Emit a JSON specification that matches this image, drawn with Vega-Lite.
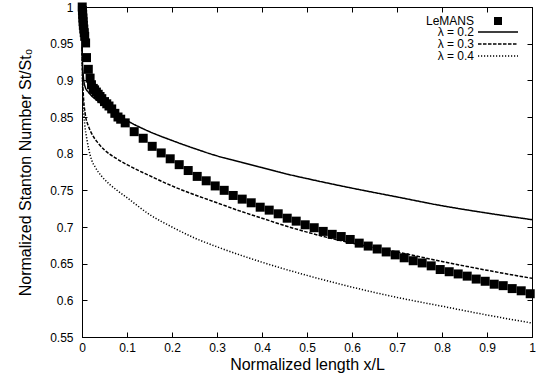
{
  "$schema": "https://vega.github.io/schema/vega-lite/v6.json",
  "width": 450,
  "height": 330,
  "autosize": "none",
  "padding": {"left": 82, "top": 7, "right": 6, "bottom": 44},
  "background": "white",
  "config": {
    "font": "Liberation Sans",
    "view": {"stroke": "black", "strokeWidth": 1},
    "axis": {
      "grid": false,
      "domainColor": "black",
      "tickColor": "black",
      "labelColor": "black",
      "titleColor": "black",
      "labelFont": "Liberation Sans",
      "titleFont": "Liberation Sans",
      "labelFontSize": 12,
      "titleFontSize": 16,
      "titleFontWeight": "normal",
      "tickSize": -5,
      "tickWidth": 1,
      "domainWidth": 1
    },
    "legend": {
      "labelFont": "Liberation Sans",
      "labelFontSize": 12,
      "labelColor": "black",
      "padding": 0,
      "rowPadding": 0,
      "labelAlign": "right",
      "orient": "none"
    }
  },
  "datasets": {
    "curves": [
      {"lam": "λ = 0.2", "x": 0, "y": 0.945},
      {"lam": "λ = 0.2", "x": 0.001, "y": 0.925},
      {"lam": "λ = 0.2", "x": 0.003, "y": 0.905},
      {"lam": "λ = 0.2", "x": 0.007, "y": 0.891},
      {"lam": "λ = 0.2", "x": 0.014, "y": 0.884},
      {"lam": "λ = 0.2", "x": 0.021, "y": 0.879},
      {"lam": "λ = 0.2", "x": 0.035, "y": 0.872},
      {"lam": "λ = 0.2", "x": 0.05, "y": 0.865},
      {"lam": "λ = 0.2", "x": 0.07, "y": 0.856},
      {"lam": "λ = 0.2", "x": 0.1, "y": 0.845},
      {"lam": "λ = 0.2", "x": 0.15, "y": 0.83},
      {"lam": "λ = 0.2", "x": 0.2, "y": 0.818},
      {"lam": "λ = 0.2", "x": 0.25, "y": 0.807},
      {"lam": "λ = 0.2", "x": 0.3, "y": 0.797},
      {"lam": "λ = 0.2", "x": 0.35, "y": 0.789},
      {"lam": "λ = 0.2", "x": 0.4, "y": 0.781},
      {"lam": "λ = 0.2", "x": 0.45, "y": 0.773},
      {"lam": "λ = 0.2", "x": 0.5, "y": 0.766},
      {"lam": "λ = 0.2", "x": 0.6, "y": 0.753},
      {"lam": "λ = 0.2", "x": 0.7, "y": 0.741},
      {"lam": "λ = 0.2", "x": 0.8, "y": 0.729},
      {"lam": "λ = 0.2", "x": 0.9, "y": 0.719},
      {"lam": "λ = 0.2", "x": 1.0, "y": 0.71},
      {"lam": "λ = 0.3", "x": 0, "y": 0.945},
      {"lam": "λ = 0.3", "x": 0.001, "y": 0.91},
      {"lam": "λ = 0.3", "x": 0.003, "y": 0.88},
      {"lam": "λ = 0.3", "x": 0.007, "y": 0.855},
      {"lam": "λ = 0.3", "x": 0.014, "y": 0.838},
      {"lam": "λ = 0.3", "x": 0.021, "y": 0.828},
      {"lam": "λ = 0.3", "x": 0.035, "y": 0.815},
      {"lam": "λ = 0.3", "x": 0.05, "y": 0.805},
      {"lam": "λ = 0.3", "x": 0.075, "y": 0.794},
      {"lam": "λ = 0.3", "x": 0.1, "y": 0.785},
      {"lam": "λ = 0.3", "x": 0.15, "y": 0.77},
      {"lam": "λ = 0.3", "x": 0.2, "y": 0.756},
      {"lam": "λ = 0.3", "x": 0.25, "y": 0.744},
      {"lam": "λ = 0.3", "x": 0.3, "y": 0.733},
      {"lam": "λ = 0.3", "x": 0.35, "y": 0.722},
      {"lam": "λ = 0.3", "x": 0.4, "y": 0.712},
      {"lam": "λ = 0.3", "x": 0.45, "y": 0.702},
      {"lam": "λ = 0.3", "x": 0.5, "y": 0.693},
      {"lam": "λ = 0.3", "x": 0.6, "y": 0.678},
      {"lam": "λ = 0.3", "x": 0.7, "y": 0.666},
      {"lam": "λ = 0.3", "x": 0.8, "y": 0.653},
      {"lam": "λ = 0.3", "x": 0.9, "y": 0.641},
      {"lam": "λ = 0.3", "x": 1.0, "y": 0.63},
      {"lam": "λ = 0.4", "x": 0, "y": 0.945},
      {"lam": "λ = 0.4", "x": 0.001, "y": 0.9},
      {"lam": "λ = 0.4", "x": 0.003, "y": 0.866},
      {"lam": "λ = 0.4", "x": 0.006, "y": 0.84},
      {"lam": "λ = 0.4", "x": 0.01, "y": 0.823},
      {"lam": "λ = 0.4", "x": 0.015, "y": 0.806},
      {"lam": "λ = 0.4", "x": 0.021, "y": 0.792},
      {"lam": "λ = 0.4", "x": 0.03, "y": 0.781},
      {"lam": "λ = 0.4", "x": 0.044, "y": 0.769},
      {"lam": "λ = 0.4", "x": 0.06, "y": 0.759},
      {"lam": "λ = 0.4", "x": 0.08, "y": 0.749},
      {"lam": "λ = 0.4", "x": 0.1, "y": 0.74},
      {"lam": "λ = 0.4", "x": 0.15, "y": 0.717},
      {"lam": "λ = 0.4", "x": 0.2, "y": 0.7},
      {"lam": "λ = 0.4", "x": 0.25, "y": 0.685},
      {"lam": "λ = 0.4", "x": 0.3, "y": 0.673},
      {"lam": "λ = 0.4", "x": 0.4, "y": 0.652},
      {"lam": "λ = 0.4", "x": 0.5, "y": 0.634},
      {"lam": "λ = 0.4", "x": 0.6, "y": 0.618},
      {"lam": "λ = 0.4", "x": 0.7, "y": 0.604},
      {"lam": "λ = 0.4", "x": 0.8, "y": 0.592},
      {"lam": "λ = 0.4", "x": 0.9, "y": 0.58},
      {"lam": "λ = 0.4", "x": 1.0, "y": 0.569}
    ],
    "lemans": [
      {"src": "LeMANS", "x": 0.0005, "y": 1.0},
      {"src": "LeMANS", "x": 0.001, "y": 0.995},
      {"src": "LeMANS", "x": 0.0015, "y": 0.99},
      {"src": "LeMANS", "x": 0.002, "y": 0.985},
      {"src": "LeMANS", "x": 0.0025, "y": 0.98},
      {"src": "LeMANS", "x": 0.003, "y": 0.975},
      {"src": "LeMANS", "x": 0.004, "y": 0.97},
      {"src": "LeMANS", "x": 0.005, "y": 0.965},
      {"src": "LeMANS", "x": 0.006, "y": 0.96},
      {"src": "LeMANS", "x": 0.008, "y": 0.951},
      {"src": "LeMANS", "x": 0.01, "y": 0.931},
      {"src": "LeMANS", "x": 0.014, "y": 0.915},
      {"src": "LeMANS", "x": 0.018, "y": 0.903},
      {"src": "LeMANS", "x": 0.021, "y": 0.894},
      {"src": "LeMANS", "x": 0.025, "y": 0.889},
      {"src": "LeMANS", "x": 0.028, "y": 0.887},
      {"src": "LeMANS", "x": 0.032, "y": 0.884},
      {"src": "LeMANS", "x": 0.036, "y": 0.881},
      {"src": "LeMANS", "x": 0.04, "y": 0.878},
      {"src": "LeMANS", "x": 0.044, "y": 0.875},
      {"src": "LeMANS", "x": 0.05, "y": 0.871},
      {"src": "LeMANS", "x": 0.055, "y": 0.868},
      {"src": "LeMANS", "x": 0.06, "y": 0.865},
      {"src": "LeMANS", "x": 0.066, "y": 0.861},
      {"src": "LeMANS", "x": 0.073, "y": 0.855},
      {"src": "LeMANS", "x": 0.08, "y": 0.85},
      {"src": "LeMANS", "x": 0.086, "y": 0.847},
      {"src": "LeMANS", "x": 0.096, "y": 0.842},
      {"src": "LeMANS", "x": 0.116, "y": 0.83},
      {"src": "LeMANS", "x": 0.136, "y": 0.821},
      {"src": "LeMANS", "x": 0.156, "y": 0.81},
      {"src": "LeMANS", "x": 0.176, "y": 0.801},
      {"src": "LeMANS", "x": 0.196, "y": 0.793},
      {"src": "LeMANS", "x": 0.216, "y": 0.785},
      {"src": "LeMANS", "x": 0.236, "y": 0.777},
      {"src": "LeMANS", "x": 0.256, "y": 0.769},
      {"src": "LeMANS", "x": 0.276, "y": 0.763},
      {"src": "LeMANS", "x": 0.296, "y": 0.756},
      {"src": "LeMANS", "x": 0.316, "y": 0.75},
      {"src": "LeMANS", "x": 0.336, "y": 0.743},
      {"src": "LeMANS", "x": 0.356, "y": 0.738},
      {"src": "LeMANS", "x": 0.376, "y": 0.733},
      {"src": "LeMANS", "x": 0.396, "y": 0.727},
      {"src": "LeMANS", "x": 0.416, "y": 0.723},
      {"src": "LeMANS", "x": 0.436, "y": 0.718},
      {"src": "LeMANS", "x": 0.456, "y": 0.712},
      {"src": "LeMANS", "x": 0.476, "y": 0.708},
      {"src": "LeMANS", "x": 0.496, "y": 0.703},
      {"src": "LeMANS", "x": 0.516, "y": 0.699},
      {"src": "LeMANS", "x": 0.536, "y": 0.694},
      {"src": "LeMANS", "x": 0.556, "y": 0.69},
      {"src": "LeMANS", "x": 0.576, "y": 0.687},
      {"src": "LeMANS", "x": 0.596, "y": 0.683},
      {"src": "LeMANS", "x": 0.616, "y": 0.678},
      {"src": "LeMANS", "x": 0.636, "y": 0.674},
      {"src": "LeMANS", "x": 0.656, "y": 0.67},
      {"src": "LeMANS", "x": 0.676, "y": 0.666},
      {"src": "LeMANS", "x": 0.696, "y": 0.662},
      {"src": "LeMANS", "x": 0.716, "y": 0.658},
      {"src": "LeMANS", "x": 0.736, "y": 0.654},
      {"src": "LeMANS", "x": 0.756, "y": 0.651},
      {"src": "LeMANS", "x": 0.776, "y": 0.647},
      {"src": "LeMANS", "x": 0.796, "y": 0.642},
      {"src": "LeMANS", "x": 0.816, "y": 0.639},
      {"src": "LeMANS", "x": 0.836, "y": 0.636},
      {"src": "LeMANS", "x": 0.856, "y": 0.633},
      {"src": "LeMANS", "x": 0.876, "y": 0.629},
      {"src": "LeMANS", "x": 0.896, "y": 0.626},
      {"src": "LeMANS", "x": 0.916, "y": 0.622},
      {"src": "LeMANS", "x": 0.936, "y": 0.62},
      {"src": "LeMANS", "x": 0.956, "y": 0.616},
      {"src": "LeMANS", "x": 0.976, "y": 0.613},
      {"src": "LeMANS", "x": 0.996, "y": 0.609}
    ]
  },
  "layer": [
    {
      "data": {"name": "curves"},
      "mark": {"type": "line", "strokeWidth": 1.5, "color": "black", "interpolate": "monotone"},
      "encoding": {
        "x": {
          "field": "x", "type": "quantitative",
          "scale": {"domain": [0, 1], "nice": false, "zero": false},
          "axis": {"orient": "bottom", "values": [0, 0.1, 0.2, 0.3, 0.4, 0.5, 0.6, 0.7, 0.8, 0.9, 1], "format": ".1~f", "labelPadding": 10, "title": "Normalized length x/L", "titlePadding": 3, "labelFlush": false}
        },
        "y": {
          "field": "y", "type": "quantitative",
          "scale": {"domain": [0.55, 1], "nice": false, "zero": false},
          "axis": {"orient": "left", "values": [0.55, 0.6, 0.65, 0.7, 0.75, 0.8, 0.85, 0.9, 0.95, 1], "format": ".2~f", "labelPadding": 14, "title": "Normalized Stanton Number St/St₀", "titlePadding": 16, "labelFlush": false}
        },
        "strokeDash": {
          "field": "lam", "type": "nominal",
          "scale": {"domain": ["λ = 0.2", "λ = 0.3", "λ = 0.4"], "range": [[1, 0], [3.5, 1.5], [1.2, 1.8]]},
          "legend": {"title": null, "legendX": 410, "legendY": 19, "symbolType": "M-5,0H5", "symbolSize": 64, "symbolStrokeWidth": 1.5, "symbolStrokeColor": "black", "symbolFillColor": "transparent", "labelOffset": -30}
        }
      }
    },
    {
      "data": {"name": "lemans"},
      "mark": {"type": "point", "filled": true, "size": 81, "color": "black", "opacity": 1},
      "encoding": {
        "x": {
          "field": "x", "type": "quantitative",
          "axis": {"orient": "top", "values": [0, 0.1, 0.2, 0.3, 0.4, 0.5, 0.6, 0.7, 0.8, 0.9, 1], "labels": false, "title": null}
        },
        "y": {
          "field": "y", "type": "quantitative",
          "axis": {"orient": "right", "values": [0.55, 0.6, 0.65, 0.7, 0.75, 0.8, 0.85, 0.9, 0.95, 1], "labels": false, "title": null}
        },
        "shape": {
          "field": "src", "type": "nominal",
          "scale": {"domain": ["LeMANS"], "range": ["square"]},
          "legend": {"title": null, "legendX": 410, "legendY": 8, "symbolSize": 64, "symbolFillColor": "black", "symbolStrokeColor": "black", "symbolStrokeWidth": 0, "labelOffset": -30}
        }
      }
    }
  ],
  "resolve": {"axis": {"x": "independent", "y": "independent"}}
}
